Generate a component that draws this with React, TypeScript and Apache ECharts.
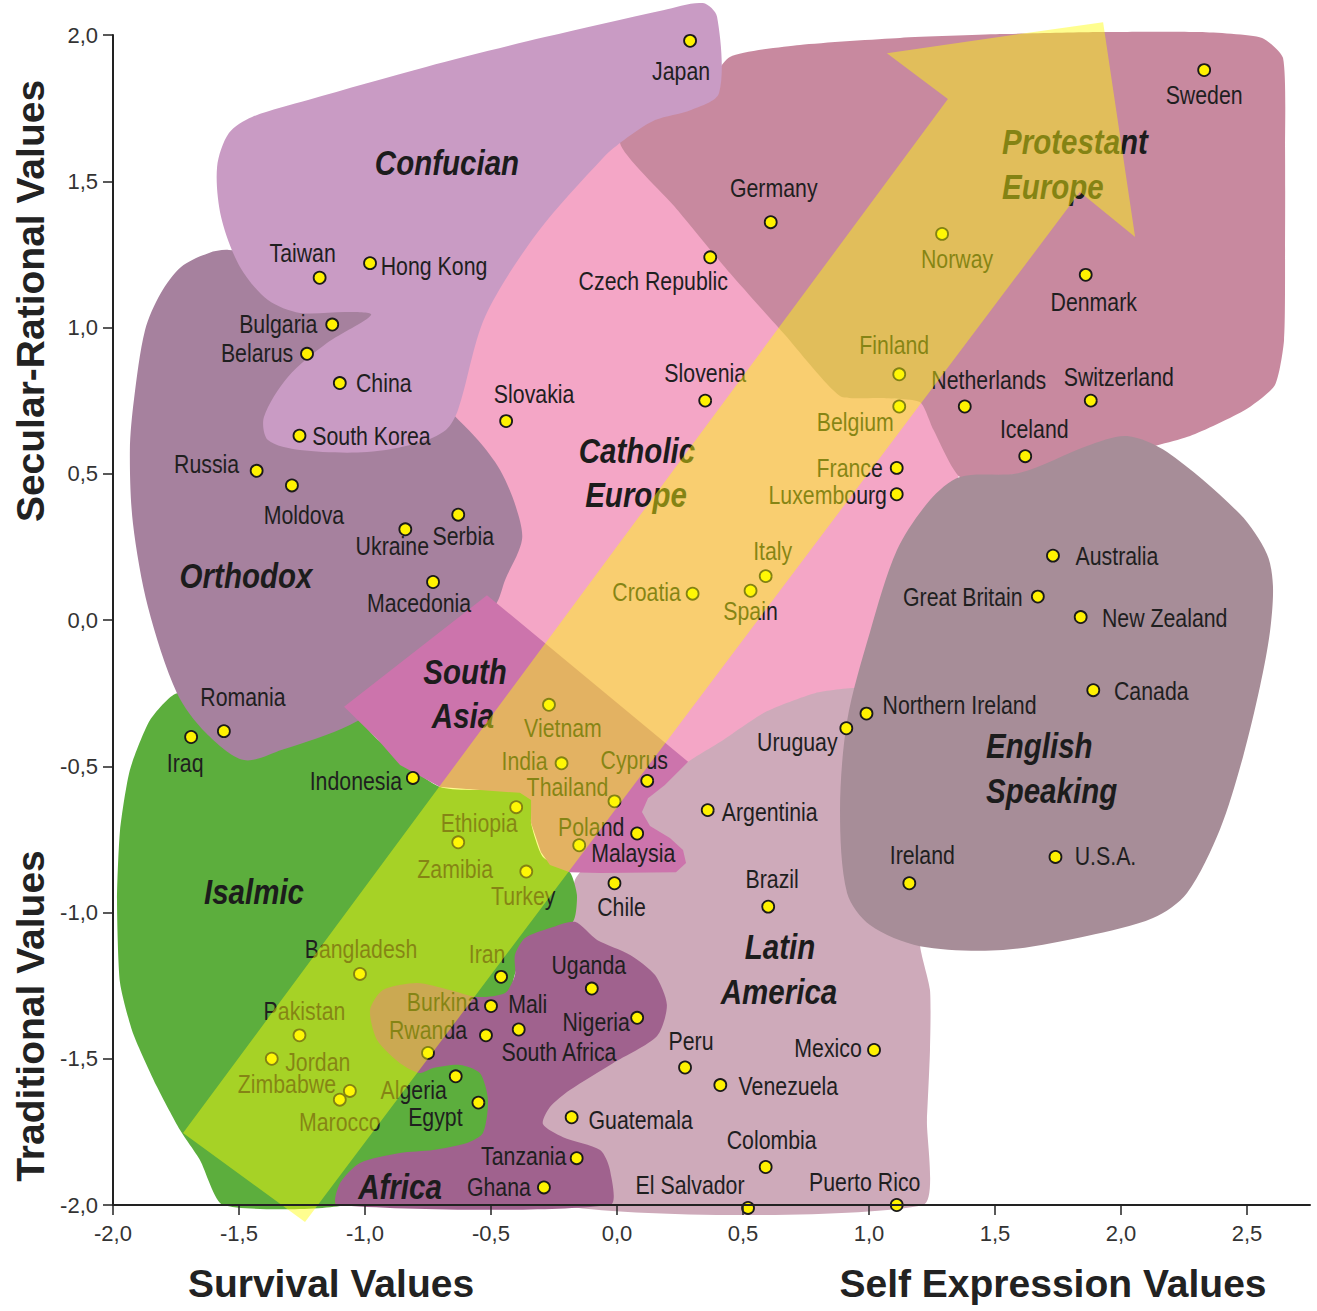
import React, { useEffect, useRef } from "react";
import * as echarts from "echarts";

// ---------- DATA ----------
const countries = [
  "Japan", "Sweden", "Germany", "Norway", "Czech Republic", "Denmark", "Taiwan", "Hong Kong",
  "Bulgaria", "Belarus", "China", "Finland", "Slovenia", "Slovakia", "Belgium", "Netherlands",
  "Switzerland", "South Korea", "Iceland", "Russia", "Moldova", "France", "Luxembourg", "Ukraine",
  "Serbia", "Australia", "Macedonia", "Italy", "Croatia", "Spain", "Great Britain", "New Zealand",
  "Canada", "Vietnam", "Northern Ireland", "Uruguay", "Romania", "Iraq", "India", "Indonesia",
  "Cyprus", "Thailand", "Argentinia", "Ethiopia", "Poland", "Malaysia", "Zamibia", "Turkey",
  "Chile", "Brazil", "Ireland", "U.S.A.", "Bangladesh", "Iran", "Uganda", "Burkina",
  "Mali", "South Africa", "Rwanda", "Nigeria", "Pakistan", "Jordan", "Zimbabwe", "Marocco",
  "Algeria", "Egypt", "Peru", "Mexico", "Venezuela", "Guatemala", "Colombia", "Tanzania",
  "Ghana", "El Salvador", "Puerto Rico",
];

// Survival (-) / Self Expression (+) values
const selfExpression = [
  0.29, 2.33, 0.61, 1.29, 0.37, 1.86, -1.18, -0.98,
  -1.13, -1.23, -1.10, 1.12, 0.35, -0.44, 1.12, 1.38,
  1.88, -1.26, 1.62, -1.43, -1.29, 1.11, 1.11, -0.84,
  -0.63, 1.73, -0.73, 0.59, 0.30, 0.53, 1.67, 1.84,
  1.89, -0.27, 0.99, 0.91, -1.56, -1.69, -0.22, -0.81,
  0.12, -0.01, 0.36, -0.40, 0.08, -0.15, -0.63, -0.36,
  -0.01, 0.60, 1.16, 1.74, -1.02, -0.46, -0.10, -0.50,
  -0.39, -0.52, -0.75, 0.08, -1.26, -1.37, -1.06, -1.10,
  -0.64, -0.55, 0.27, 1.02, 0.41, -0.18, 0.59, -0.16,
  -0.29, 0.52, 1.11,
];

// Traditional (-) / Secular-Rational (+) values
const secularRational = [
  1.98, 1.88, 1.36, 1.32, 1.24, 1.18, 1.17, 1.22,
  1.01, 0.91, 0.81, 0.84, 0.75, 0.68, 0.73, 0.73,
  0.75, 0.63, 0.56, 0.51, 0.46, 0.52, 0.43, 0.31,
  0.36, 0.22, 0.13, 0.15, 0.09, 0.10, 0.08, 0.01,
  -0.24, -0.29, -0.32, -0.37, -0.38, -0.40, -0.49, -0.54,
  -0.55, -0.62, -0.65, -0.64, -0.73, -0.77, -0.76, -0.86,
  -0.90, -0.98, -0.90, -0.81, -1.21, -1.22, -1.26, -1.32,
  -1.40, -1.42, -1.48, -1.36, -1.42, -1.50, -1.61, -1.64,
  -1.56, -1.65, -1.53, -1.47, -1.59, -1.70, -1.87, -1.84,
  -1.94, -2.01, -2.0,
];

const xTickValues = [-2, -1.5, -1, -0.5, 0, 0.5, 1, 1.5, 2, 2.5];
const yTickValues = [-2, -1.5, -1, -0.5, 0, 0.5, 1, 1.5, 2];

// ---------- LABEL PLACEMENT (pixel offsets of each country name from its point) ----------
const labelOffsets: Record<string, [number, number]> = {
  Japan: [-9, 30], Sweden: [0, 25], Germany: [3, -34], Norway: [15, 25],
  "Czech Republic": [-57, 23], Denmark: [8, 27], Taiwan: [-17, -25], "Hong Kong": [64, 3],
  Bulgaria: [-54, -1], Belarus: [-50, -1], China: [44, 0], Finland: [-5, -30],
  Slovenia: [0, -28], Slovakia: [28, -27], Belgium: [-44, 15], Netherlands: [24, -27],
  Switzerland: [28, -24], "South Korea": [72, 0], Iceland: [9, -27], Russia: [-50, -7],
  Moldova: [12, 29], France: [-47, 0], Luxembourg: [-69, 0], Ukraine: [-13, 16],
  Serbia: [5, 21], Australia: [64, 0], Macedonia: [-14, 21], Italy: [7, -25],
  Croatia: [-46, -2], Spain: [0, 20], "Great Britain": [-75, 0], "New Zealand": [84, 1],
  Canada: [58, 1], Vietnam: [14, 23], "Northern Ireland": [93, -9], Uruguay: [-49, 13],
  Romania: [19, -34], Iraq: [-6, 26], India: [-37, -3], Indonesia: [-57, 3],
  Cyprus: [-13, -21], Thailand: [-47, -15], Argentinia: [62, 2], Ethiopia: [-37, 16],
  Poland: [-46, -7], Malaysia: [54, 7], Zamibia: [-3, 26], Turkey: [-3, 24],
  Chile: [7, 23], Brazil: [4, -28], Ireland: [13, -29], "U.S.A.": [50, -1],
  Bangladesh: [1, -25], Iran: [-14, -23], Uganda: [-3, -24], Burkina: [-48, -4],
  Mali: [9, -26], "South Africa": [73, 16], Rwanda: [0, -23], Nigeria: [-41, 4],
  Pakistan: [5, -25], Jordan: [46, 3], Zimbabwe: [-63, -7], Marocco: [0, 22],
  Algeria: [-42, 13], Egypt: [-43, 14], Peru: [6, -27], Mexico: [-46, -2],
  Venezuela: [68, 1], Guatemala: [69, 2], Colombia: [6, -27], Tanzania: [-53, -2],
  Ghana: [-45, -1], "El Salvador": [-58, -23], "Puerto Rico": [-32, -23],
};

// ---------- CULTURAL ZONE OUTLINES (in data units: self expression, secular-rational) ----------
type Pt = [number, number];

const catholicOutline: Pt[] = [
  [0.091, 1.675], [0.488, 1.162], [0.885, 0.769], [1.222, 0.752], [1.361, 0.513],
  [1.282, 0.205], [1.123, -0.239], [0.329, -0.479], [-0.067, -0.581], [-0.583, 0.068],
  [-0.7, 0.41], [-0.86, 0.684], [-0.385, 1.607],
];

const protestantOutline: Pt[] = [
  [0.012, 1.631], [0.171, 1.726], [0.329, 1.795], [0.448, 1.925], [0.726, 1.966],
  [1.123, 1.99], [1.52, 2.003], [1.917, 2.01], [2.313, 2.01], [2.56, 1.99],
  [2.643, 1.921], [2.651, 1.607], [2.651, 1.265], [2.647, 0.957], [2.611, 0.803],
  [2.492, 0.718], [2.274, 0.629], [2.036, 0.574], [1.758, 0.52], [1.52, 0.492],
  [1.361, 0.489], [1.254, 0.653], [1.202, 0.745], [1.044, 0.759], [0.885, 0.766],
  [0.667, 0.974], [0.448, 1.186], [0.23, 1.412],
];

const latinOutline: Pt[] = [
  [0.282, -0.485], [0.409, -0.417], [0.587, -0.315], [0.786, -0.25], [0.964, -0.232],
  [1.123, -0.256], [1.202, -0.444], [1.222, -0.786], [1.202, -1.108], [1.242, -1.265],
  [1.242, -1.47], [1.23, -1.709], [1.214, -2.0], [-0.226, -2.0], [-0.306, -1.726],
  [-0.246, -1.299], [-0.179, -1.026], [-0.167, -0.889], [-0.067, -0.786], [0.151, -0.581],
];

const englishOutline: Pt[] = [
  [1.361, 0.489], [1.599, 0.503], [1.865, 0.595], [2.024, 0.629], [2.183, 0.574],
  [2.472, 0.362], [2.579, 0.226], [2.603, 0.116], [2.591, -0.041], [2.552, -0.226],
  [2.484, -0.468], [2.393, -0.715], [2.262, -0.933], [2.127, -1.019], [1.865, -1.08],
  [1.532, -1.128], [1.202, -1.115], [1.004, -1.043], [0.913, -0.933], [0.885, -0.653],
  [0.913, -0.345], [1.004, -0.041], [1.111, 0.239], [1.242, 0.41],
];

const islamicOutline: Pt[] = [
  [-1.746, -0.25], [-1.417, -0.274], [-1.083, -0.297], [-0.948, -0.41], [-0.702, -0.571],
  [-0.341, -0.591], [-0.341, -0.694], [-0.294, -0.81], [-0.187, -0.862], [-0.159, -0.94],
  [-0.175, -1.032], [-0.385, -1.162], [-0.464, -1.504], [-0.464, -1.778], [-0.702, -1.846],
  [-0.98, -1.88], [-1.079, -2.0], [-1.563, -2.0], [-1.655, -1.846], [-1.734, -1.744],
  [-1.825, -1.597], [-1.921, -1.412], [-1.972, -1.241], [-1.984, -0.957], [-1.972, -0.718],
  [-1.933, -0.513], [-1.853, -0.342],
];

const orthodoxOutline: Pt[] = [
  [-1.54, 1.265], [-1.258, 1.224], [-0.94, 1.026], [-0.702, 0.752], [-0.552, 0.615],
  [-0.464, 0.513], [-0.401, 0.386], [-0.377, 0.274], [-0.444, 0.137], [-0.484, 0.051],
  [-0.782, -0.205], [-1.06, -0.359], [-1.329, -0.444], [-1.48, -0.479], [-1.631, -0.386],
  [-1.746, -0.25], [-1.861, 0.044], [-1.921, 0.332], [-1.933, 0.581], [-1.917, 0.752],
  [-1.873, 0.991], [-1.81, 1.118], [-1.73, 1.207], [-1.619, 1.255],
];

const southAsiaOutline: Pt[] = [
  [-0.516, 0.085], [0.282, -0.485], [0.19, -0.564], [0.123, -0.609], [0.099, -0.656],
  [0.131, -0.704], [0.21, -0.745], [0.262, -0.786], [0.274, -0.831], [0.234, -0.862],
  [-0.067, -0.865], [-0.187, -0.862], [-0.266, -0.838], [-0.302, -0.793], [-0.341, -0.694],
  [-0.341, -0.615], [-0.385, -0.591], [-0.544, -0.581], [-0.702, -0.571], [-0.861, -0.496],
  [-0.948, -0.41], [-1.083, -0.297],
];

const confucianOutline: Pt[] = [
  [0.341, 2.109], [0.397, 2.062], [0.405, 1.802], [0.294, 1.744], [0.151, 1.709],
  [0.028, 1.641], [-0.052, 1.583], [-0.317, 1.323], [-0.524, 1.036], [-0.631, 0.718],
  [-0.679, 0.65], [-0.79, 0.605], [-0.992, 0.574], [-1.258, 0.581], [-1.385, 0.615],
  [-1.401, 0.694], [-1.306, 0.831], [-1.151, 0.947], [-0.976, 1.043], [-1.071, 1.053],
  [-1.258, 1.05], [-1.385, 1.094], [-1.496, 1.207], [-1.571, 1.378], [-1.587, 1.549],
  [-1.54, 1.665], [-1.448, 1.72], [-1.226, 1.778], [-0.758, 1.891], [-0.286, 1.993],
  [0.183, 2.085],
];

const africaOutline: Pt[] = [
  [-1.111, -2.0], [-1.099, -1.925], [-1.02, -1.856], [-0.861, -1.822], [-0.73, -1.812],
  [-0.595, -1.788], [-0.532, -1.754], [-0.512, -1.641], [-0.544, -1.549], [-0.623, -1.521],
  [-0.73, -1.532], [-0.782, -1.549], [-0.861, -1.515], [-0.952, -1.436], [-0.98, -1.333],
  [-0.929, -1.265], [-0.794, -1.241], [-0.663, -1.265], [-0.556, -1.289], [-0.444, -1.275],
  [-0.405, -1.214], [-0.405, -1.145], [-0.365, -1.087], [-0.266, -1.053], [-0.167, -1.032],
  [-0.079, -1.094], [0.052, -1.145], [0.151, -1.214], [0.198, -1.316], [0.159, -1.422],
  [-0.016, -1.515], [-0.187, -1.607], [-0.266, -1.665], [-0.294, -1.723], [-0.214, -1.768],
  [-0.067, -1.812], [-0.028, -1.88], [-0.028, -2.0],
];

const arrowOutline: Pt[] = [
  [-1.722, -1.754], [1.313, 1.781], [1.071, 1.938], [1.929, 2.044],
  [2.056, 1.309], [1.837, 1.463], [-1.238, -2.058],
];

const regionLayers = [
  { name: "Catholic Europe", color: "#f4a6c6", smooth: 0, pts: catholicOutline },
  { name: "Protestant Europe", color: "#c8899f", smooth: 0.2, pts: protestantOutline },
  { name: "Latin America", color: "#ceaaba", smooth: 0.2, pts: latinOutline },
  { name: "English Speaking", color: "#a78d98", smooth: 0.3, pts: englishOutline },
  { name: "Islamic", color: "#5cae3d", smooth: 0.2, pts: islamicOutline },
  { name: "Orthodox", color: "#a6819e", smooth: 0.3, pts: orthodoxOutline },
  { name: "South Asia", color: "#cc74ac", smooth: 0, pts: southAsiaOutline },
  { name: "Confucian", color: "#c99bc4", smooth: 0.3, pts: confucianOutline },
  { name: "Africa", color: "#a0628e", smooth: 0.25, pts: africaOutline },
];

const FONT = "'Liberation Sans', Arial, Helvetica, sans-serif";
const NARROW_SCALE = 0.82;

const fmt = (v: number) => v.toFixed(1).replace(".", ",");

function zoneLabel(text: string, x: number, y: number, align: string = "center") {
  return {
    type: "text",
    x,
    y,
    scaleX: NARROW_SCALE,
    z: 4,
    silent: true,
    style: {
      text,
      fill: "#1c1c1c",
      fontFamily: FONT,
      fontSize: 36,
      fontWeight: "bold",
      fontStyle: "italic",
      textAlign: align,
      align,
      textVerticalAlign: "middle",
      verticalAlign: "middle",
    },
  };
}

function axisTitle(text: string, x: number, y: number, rotation = 0) {
  return {
    type: "text",
    x,
    y,
    rotation,
    z: 10,
    silent: true,
    style: {
      text,
      fill: "#222",
      fontFamily: FONT,
      fontSize: 39,
      fontWeight: "bold",
      textAlign: "center",
      align: "center",
      textVerticalAlign: "middle",
      verticalAlign: "middle",
    },
  };
}

export default function App() {
  const ref = useRef<HTMLDivElement>(null);

  useEffect(() => {
    if (!ref.current) return;
    const chart = echarts.init(ref.current, undefined, { renderer: "svg" });

    const pointData = countries.map((name, i) => ({
      name,
      value: [selfExpression[i], secularRational[i]],
    }));

    const option: any = {
      animation: false,
      backgroundColor: "#ffffff",
      grid: { left: 113, right: 7, top: 35, bottom: 106, containLabel: false },
      xAxis: {
        type: "value",
        min: -2,
        max: 2.75,
        interval: 0.5,
        z: 10,
        splitLine: { show: false },
        axisLine: { onZero: false, lineStyle: { color: "#222", width: 2 } },
        axisTick: { show: true, length: 10, lineStyle: { color: "#222", width: 1.5 }, customValues: xTickValues },
        axisLabel: {
          customValues: xTickValues,
          formatter: (v: number) => fmt(v),
          color: "#333",
          fontFamily: FONT,
          fontSize: 22,
          margin: 17,
        },
      },
      yAxis: {
        type: "value",
        min: -2,
        max: 2,
        interval: 0.5,
        z: 10,
        splitLine: { show: false },
        axisLine: { onZero: false, lineStyle: { color: "#222", width: 2 } },
        axisTick: { show: true, length: 10, lineStyle: { color: "#222", width: 1.5 }, customValues: yTickValues },
        axisLabel: {
          customValues: yTickValues,
          formatter: (v: number) => fmt(v),
          color: "#333",
          fontFamily: FONT,
          fontSize: 22,
          margin: 15,
        },
      },
      graphic: [
        zoneLabel("Confucian", 447, 162),
        zoneLabel("Protestant", 1002, 141, "left"),
        zoneLabel("Europe", 1002, 186, "left"),
        zoneLabel("Catholic", 637, 450),
        zoneLabel("Europe", 636, 494),
        zoneLabel("Orthodox", 246, 575),
        zoneLabel("South", 465, 671),
        zoneLabel("Asia", 463, 715),
        zoneLabel("Isalmic", 254, 891),
        zoneLabel("Africa", 400, 1186),
        zoneLabel("Latin", 780, 946),
        zoneLabel("America", 779, 991),
        zoneLabel("English", 986, 745, "left"),
        zoneLabel("Speaking", 986, 790, "left"),
        axisTitle("Survival Values", 331, 1283),
        axisTitle("Self Expression Values", 1053, 1283),
        axisTitle("Secular-Rational Values", 30, 301, Math.PI / 2),
        axisTitle("Traditional Values", 30, 1016, Math.PI / 2),
      ],
      series: [
        {
          type: "custom",
          name: "zones",
          coordinateSystem: "cartesian2d",
          z: 1,
          silent: true,
          clip: false,
          encode: { x: 0, y: 1 },
          data: regionLayers.map(() => [0, 0]),
          renderItem: (params: any, api: any) => {
            const r = regionLayers[params.dataIndex];
            return {
              type: "polygon",
              z2: params.dataIndex,
              shape: { points: r.pts.map((p) => api.coord(p)), smooth: r.smooth },
              style: { fill: r.color },
            };
          },
        },
        {
          type: "scatter",
          name: "countries",
          z: 3,
          clip: false,
          symbol: "circle",
          symbolSize: 12,
          itemStyle: { color: "#fff200", borderColor: "#1a1a1a", borderWidth: 1.8, opacity: 1 },
          label: { show: false },
          emphasis: { disabled: true },
          data: pointData,
        },
        {
          type: "custom",
          name: "countryNames",
          coordinateSystem: "cartesian2d",
          z: 3,
          silent: true,
          clip: false,
          encode: { x: 0, y: 1 },
          data: countries.map((_, i) => [selfExpression[i], secularRational[i]]),
          renderItem: (params: any, api: any) => {
            const name = countries[params.dataIndex];
            const p = api.coord([api.value(0), api.value(1)]);
            const off = labelOffsets[name] || [0, 0];
            return {
              type: "text",
              x: p[0] + off[0],
              y: p[1] + off[1],
              scaleX: NARROW_SCALE,
              style: {
                text: name,
                fill: "#1f1f1f",
                fontFamily: FONT,
                fontSize: 26,
                textAlign: "center",
                align: "center",
                textVerticalAlign: "middle",
                verticalAlign: "middle",
              },
            };
          },
        },
        {
          type: "custom",
          name: "arrow",
          coordinateSystem: "cartesian2d",
          z: 5,
          silent: true,
          clip: false,
          encode: { x: 0, y: 1 },
          data: [[0, 0]],
          renderItem: (params: any, api: any) => ({
            type: "polygon",
            shape: { points: arrowOutline.map((p) => api.coord(p)), smooth: 0 },
            style: { fill: "rgba(255,252,10,0.46)" },
          }),
        },
      ],
    };

    chart.setOption(option);
    return () => chart.dispose();
  }, []);

  return (
    <div
      ref={ref}
      style={{ position: "fixed", left: 0, top: 0, width: 1317, height: 1311, background: "#fff" }}
    />
  );
}
